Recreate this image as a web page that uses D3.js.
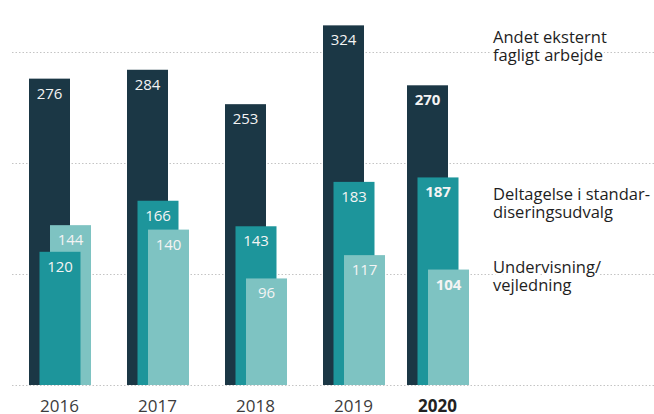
<!DOCTYPE html>
<html>
<head>
<meta charset="utf-8">
<script src="https://cdn.jsdelivr.net/npm/d3@7"></script>
<style>
  body { margin: 0; background: #fff; }
  svg { font-family: "Open Sans", sans-serif; display: block; }
</style>
</head>
<body>
<div id="chart"></div>
<script>
// Aktiviteter pr. år
const years = ["2016", "2017", "2018", "2019", "2020"];
const series = ["Andet eksternt fagligt arbejde", "Deltagelse i standardiseringsudvalg", "Undervisning/vejledning"];
const andet = [276, 284, 253, 324, 270];
const deltagelse = [120, 166, 143, 183, 187];
const undervisning = [144, 140, 96, 117, 104];
const yTicks = [0, 100, 200, 300];
const legendLines = [["Andet eksternt", "fagligt arbejde"], ["Deltagelse i standar-", "diseringsudvalg"], ["Undervisning/", "vejledning"]];

const width = 654;
const height = 414;
const colors = ["#1b3745", "#1d959b", "#7ec3c2"];
const highlight = "2020";

const svg = d3.select("#chart")
    .append("svg")
    .attr("width", width)
    .attr("height", height);

const y = d3.scaleLinear().domain([0, 300]).range([385, 52]);
const x = d3.scaleBand().domain(years).range([29, 519]);
const offset = d3.scalePoint().domain(series).range([0, 21]);
const barW = 41;
// sidste år er rykket lidt tættere på
const xPos = yr => x(yr) + (yr === highlight ? -14 : 0);

// gitterlinjer
svg.append("g")
    .selectAll("line")
    .data(yTicks)
    .enter()
    .append("line")
    .attr("x1", 12)
    .attr("x2", width)
    .attr("y1", d => y(d) + 0.5)
    .attr("y2", d => y(d) + 0.5)
    .attr("stroke", "#c4c4c4")
    .attr("stroke-width", 1)
    .attr("stroke-dasharray", "1.5,2");

const values = [andet, deltagelse, undervisning];
const groups = years.map((yr, i) => {
    const bars = series.map((s, j) => ({ year: yr, series: s, idx: j, value: values[j][i] }));
    // højeste søjle tegnes først
    return bars.sort((a, b) => b.value - a.value);
});

const g = svg.selectAll("g.year")
    .data(groups)
    .enter()
    .append("g")
    .attr("class", "year");

const bar = g.selectAll("g.bar")
    .data(d => d)
    .enter()
    .append("g")
    .attr("class", "bar");

bar.append("rect")
    .attr("x", d => xPos(d.year) + offset(d.series))
    .attr("y", d => y(d.value))
    .attr("width", barW)
    .attr("height", d => y(0) - y(d.value))
    .attr("fill", d => colors[d.idx]);

bar.append("text")
    .attr("x", d => xPos(d.year) + offset(d.series) + barW / 2)
    .attr("y", d => y(d.value) + 20)
    .attr("text-anchor", "middle")
    .attr("fill", "#f4f4f4")
    .style("font-size", "15px")
    .style("font-weight", d => d.year === highlight ? 700 : 400)
    .text(d => d.value);

// årstal
svg.append("g")
    .selectAll("text")
    .data(years)
    .enter()
    .append("text")
    .attr("x", d => xPos(d) + 30.5)
    .attr("y", 412)
    .attr("text-anchor", "middle")
    .attr("fill", d => d === highlight ? "#222" : "#3c3c3c")
    .style("font-size", "17px")
    .style("font-weight", d => d === highlight ? 700 : 400)
    .text(d => d);

// forklaring
const legendY = [43, 200, 273];
const legend = svg.append("g")
    .selectAll("text")
    .data(legendLines)
    .enter()
    .append("text")
    .attr("x", 493)
    .attr("y", (d, i) => legendY[i])
    .attr("fill", "#1e1e1e")
    .attr("stroke", "#fff")
    .attr("stroke-width", 5)
    .attr("paint-order", "stroke")
    .style("font-size", "16.5px");

legend.selectAll("tspan")
    .data(d => d)
    .enter()
    .append("tspan")
    .attr("x", 493)
    .attr("dy", (d, i) => i === 0 ? 0 : 17.5)
    .text(d => d);
</script>
</body>
</html>
